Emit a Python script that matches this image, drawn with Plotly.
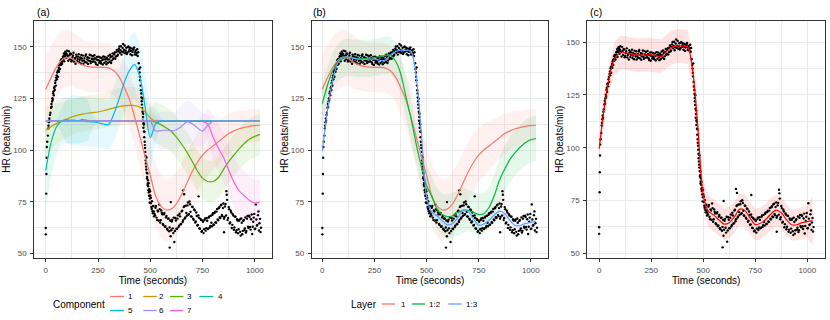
import plotly.graph_objects as go

# ---------------- data ----------------
GRID_T = [0, 25, 50, 75, 100, 125, 150, 175, 200, 225, 250, 275, 300, 325, 350, 375, 400, 425, 450, 475,
          500, 525, 550, 575, 600, 625, 650, 675, 700, 725, 750, 775, 800, 825, 850, 875, 900, 925, 950, 975,
          1000, 1025]

COMP1 = [129.4, 135, 140, 143.5, 144.7, 144.3, 142.5, 141.2, 140.5, 140.1, 140, 140, 139.8, 138.5, 135.5,
         130.5, 124.5, 116, 106.5, 97, 87.8, 78, 73, 71, 71.5, 74, 78.5, 84, 89.5, 94, 97.5, 100, 102, 104,
         106, 108, 109.3, 110.3, 111, 111.5, 111.8, 112]
HW1 = [17, 16, 15, 14, 14, 13, 13, 12, 12, 12, 12, 12, 12, 12, 12, 13, 13, 14, 14, 14, 15, 15, 15, 15, 15,
       15, 15, 15, 14, 14, 13, 13, 12, 11, 10, 10, 9, 9, 8, 8, 8, 8]

COMP2 = [109.6, 111.3, 112.8, 114, 115, 116, 116.8, 117.4, 117.8, 118.1, 118.4, 119, 119.7, 120.4, 121,
         121.4, 121.6, 121.5, 120.8, 118.5, 115.5, 114, 114, 114, 114, 114, 114, 114, 114, 114, 114, 114,
         114, 114, 114, 114, 114, 114, 114, 114, 114, 114]
HW2 = [12, 11, 10, 9, 9, 8.5, 8.5, 8.5, 8.5, 8.5, 8.5, 8.5, 8.5, 9, 9, 9, 9, 9, 9, 8, 6, 2, 0, 0, 0, 0, 0,
       0, 0, 0, 0, 0, 0, 0, 0, 0, 0, 0, 0, 0, 0, 0]

COMP3 = [114, 114, 114, 114, 114, 114, 114, 114, 114, 114, 114, 114, 114, 114, 114, 114, 114, 114, 114, 114,
         114, 113.5, 112.3, 110.8, 109.1, 106.2, 102.8, 99, 94.6, 90, 86.4, 84.8, 84.8, 86.6, 90.5, 94.4,
         97.6, 100.6, 103.2, 105.3, 106.6, 107.6]
HW3 = [0, 0, 0, 0, 0, 0, 0, 0, 0, 0, 0, 0, 0, 0, 0, 0, 0, 0, 0, 3, 7, 10, 10, 10, 10, 10, 10, 10, 10, 10,
       10, 10, 10, 10, 10, 10, 10, 10, 10, 10, 10, 10]

COMP4 = [90.2, 103.5, 111, 114, 114.6, 114.2, 114, 114.7, 114.3, 114, 114, 114, 114, 114, 114, 114, 114,
         114, 114, 114, 114, 114, 114, 114, 114, 114, 114, 114, 114, 114, 114, 114, 114, 114, 114, 114, 114,
         114, 114, 114, 114, 114]
HW4 = [20, 16, 13, 11, 11, 11, 11, 11, 10, 3, 0, 0, 0, 0, 0, 0, 0, 0, 0, 0, 0, 0, 0, 0, 0, 0, 0, 0, 0, 0,
       0, 0, 0, 0, 0, 0, 0, 0, 0, 0, 0, 0]

COMP5 = [114, 114, 114, 114, 114, 114.5, 114.2, 114, 113.8, 113.6, 113.2, 112.6, 112.3, 117.3, 124.5, 132.5,
         138.5, 141.5, 135.5, 121, 106, 112.5, 114, 114, 114, 114, 114, 114, 114, 114, 114, 114, 114, 114,
         114, 114, 114, 114, 114, 114, 114, 114]
HW5 = [0, 0, 0, 6, 11, 12, 12, 12, 12, 12, 12, 12, 12, 13, 14, 15, 16, 16, 16, 16, 15, 8, 2, 0, 0, 0, 0, 0,
       0, 0, 0, 0, 0, 0, 0, 0, 0, 0, 0, 0, 0, 0]

COMP6 = [114, 114, 114, 114, 114, 114, 114, 114, 114, 114, 114, 114, 114, 114, 114, 114, 114, 114, 114, 114,
         114, 109.2, 109.4, 109.6, 109.3, 109.8, 111.5, 113.6, 112.8, 110.8, 109.2, 112, 114, 114, 114, 114,
         114, 114, 114, 114, 114, 114]
HW6 = [0, 0, 0, 0, 0, 0, 0, 0, 0, 0, 0, 0, 0, 0, 0, 0, 0, 0, 0, 0, 4, 8, 9, 9, 9, 9, 10, 10.5, 10, 9, 9, 5,
       0, 0, 0, 0, 0, 0, 0, 0, 0, 0]

COMP7 = [114, 114, 114, 114, 114, 114, 114, 114, 114, 114, 114, 114, 114, 114, 114, 114, 114, 114, 114, 114,
         114, 114, 114, 114, 114, 114, 114, 114, 114, 114, 114, 112.5, 106.3, 101, 96.5, 90.3, 84.6, 80.3,
         77.8, 75.6, 74.3, 75]
HW7 = [0, 0, 0, 0, 0, 0, 0, 0, 0, 0, 0, 0, 0, 0, 0, 0, 0, 0, 0, 0, 0, 0, 0, 0, 0, 0, 0, 0, 0, 0, 3, 8, 11,
       12, 12, 12, 12, 12, 12, 12, 11, 11]

LAYER12 = [122.5, 131.5, 138.5, 142.5, 144.5, 145, 144.5, 144.2, 144.2, 144.4, 144.8, 145.2, 145.8, 145.8,
           143.2, 137.3, 126.3, 115.5, 103, 92, 82.8, 77.5, 71.5, 68.8, 67.8, 68.2, 69.8, 70.8, 70.8, 69.8,
           68.8, 69.2, 72.3, 78, 85.5, 90.8, 95.5, 98.8, 101.5, 103.7, 105, 105.6]
HW12 = [9, 9, 9, 9, 9, 9, 9, 9, 9, 9, 9, 9, 9, 9, 9, 10, 10, 10, 10, 10, 10, 10, 10, 10, 11, 11, 11, 11,
        10, 10, 10, 10, 10, 10, 11, 11, 11, 11, 11, 11, 11, 11]

FIT = [99.5, 119.4, 134, 142.4, 145, 145, 144.4, 144, 143.9, 144, 144, 143.5, 143.4, 145.8, 147.6, 148.3,
       148.2, 147.8, 136, 108.5, 77.6, 69.8, 68.2, 65.8, 63.8, 64.5, 67.2, 70.9, 70.3, 66.6, 63.6, 64.2, 66,
       68.6, 70.4, 69.2, 65.9, 63.5, 63.5, 64.5, 65, 65.5]
HW_FIT = [5, 6, 7, 8, 8, 8, 8, 8, 8, 8, 8, 8, 8, 8, 8, 8, 8, 8, 8, 8, 7, 7.5, 7.5, 7.5, 7.5, 7.5, 7.5, 7.5,
          7.5, 7.5, 7.5, 7.5, 7.5, 7.5, 7.5, 7.5, 7.5, 7.5, 7.5, 7.5, 7.5, 12]
HW13 = [5, 3, 2, 2, 2, 2, 2, 2, 2, 2, 2, 2, 2, 2, 2, 2, 2, 2, 2, 2, 2, 2, 2, 2, 2, 2, 2, 2, 2, 2, 2, 2, 2,
        2, 2, 2, 2, 2, 2, 2, 2, 8]

# observed heart rate (seconds, beats/min)
HR_T = [0, 0, 2, 3, 4, 5, 7, 10, 12, 15, 18, 20, 25, 28, 30, 35, 38, 40, 45, 48, 50, 55, 58, 60, 65, 68, 70,
        75, 78, 80, 85, 88, 90, 95, 98, 100,
        105, 110, 115, 120, 125, 130, 135, 140, 145, 150, 155, 160, 165, 170, 175, 180, 185, 190, 195, 200,
        205, 210, 215, 220, 225, 230, 235, 240, 245, 250, 255, 260, 265, 270, 275, 280, 285, 290, 295, 300,
        305, 310, 315, 320, 325, 330, 335, 340, 345, 350, 355, 360, 365, 370, 375, 380, 385, 390, 395, 400,
        405, 410, 415, 420, 425, 430, 435, 440,
        445, 450, 452, 455, 458, 460, 463, 465, 468, 470, 473, 475, 478, 480, 483, 485, 488, 490, 493, 495,
        498, 500, 505, 510, 515, 520,
        525, 530, 535, 540, 545, 550, 555, 560, 565, 570, 575, 580, 585, 590, 593, 595, 598, 600, 605, 610,
        615, 620, 625, 630, 635, 640, 645, 650, 655, 657, 660, 662, 665, 670, 675, 680, 685, 690, 695, 700,
        705, 710, 715, 720, 725, 730, 731, 735, 740, 745, 750, 755, 760, 765, 770, 775, 780, 785, 790, 795,
        800, 805, 810, 815, 820, 825, 830, 835, 840, 845, 850, 853, 855, 860, 864, 866, 870, 875, 880, 885,
        890, 895, 900, 905, 910, 915, 920, 925, 930, 935, 940, 945, 950, 955, 960, 965, 970, 975, 980, 985,
        990, 995, 1000, 1005, 1010, 1015, 1020, 1025, 1030]
HR_V = [59.2, 62.3, 78.9, 88.4, 96.3, 101.5, 104, 107, 110.5, 113.5, 114.2, 117, 120.5, 121, 123.5, 127.5,
        126.5, 130, 132.5, 131.2, 135, 137.5, 135.5, 138.6, 141, 139.2, 142, 144, 141.8, 143.8, 145.5, 143,
        146.2, 147, 144.5, 146.5,
        145.5, 147.8, 144, 146.5, 143.5, 145.8, 142.8, 144.6, 146.2, 143, 145.2, 142.5, 144.8, 146, 143.2,
        141.8, 144.5, 145.6, 142.4, 144.9, 143.3, 146.1, 142.1, 144.2, 145.4, 142.9, 144.4, 141.6, 145.1,
        143.6, 142.3, 144.8, 141.9, 143.5, 145.3, 142.2, 144, 141.5, 143.8, 145.6, 142.7, 144.9, 143.3,
        146.8, 144.5, 147.2, 145.3, 148.5, 146.1, 149, 147.1, 150.2, 147.6, 151.3, 148.4, 146.9, 149.5,
        147.2, 150.1, 148.6, 146.4, 149.2, 147.5, 148.9, 146.3, 148.2, 147, 145.5,
        142, 135.5, 140, 129, 125.5, 122, 118.5, 116, 113, 109, 104, 101, 95, 92, 89, 87, 84, 82.5, 79.5, 81,
        76.5, 78, 72.5, 70.5, 73, 69.2,
        72.1, 67.3, 70.8, 65.9, 71.4, 66.1, 69.7, 64.2, 68.9, 62.8, 67.4, 61.9, 66.8, 60.7, 52.8, 65.9, 74.8,
        61.2, 66.3, 59.8, 55.5, 67.1, 61.9, 66.8, 62.7, 69.2, 64.1, 70.3, 65.2, 80.5, 72.4, 78.6, 66.9, 73.1,
        68.2, 74.6, 69, 73.8, 67.9, 72.6, 66.8, 71.2, 64.9, 69.8, 63.5, 68.4, 77.6, 62.1, 66.7, 60.4, 65.9,
        59.8, 66.2, 61, 67.1, 61.8, 67.3, 62.5, 68.2, 63.1, 69.4, 63.9, 70.2, 64.8, 71.5, 66, 72.3, 67.1, 73.5,
        68, 74.1, 60.2, 67.6, 73.9, 80.1, 78.4, 66.1, 72.4, 64.5, 70.6, 62.3, 68.9, 61.4, 67.8, 60.2, 66.5,
        59.7, 65.8, 60.4, 66.9, 59.3, 65.7, 61.2, 67.4, 60.9, 68.1, 62.3, 67.6, 61.5, 68.8, 62.9, 67.3, 61.8,
        73.7, 63.4, 68.5, 61.1, 66.7, 62.4]

HR_T2 = [13, 17, 22, 27, 32, 33, 37, 42, 43, 47, 52, 53, 57, 62, 63, 67, 72, 73, 77, 82, 83, 87, 92, 93, 97,
         102,
         107.5, 112.5, 117.5, 122.5, 127.5, 132.5, 137.5, 142.5, 147.5, 152.5,
         157.5, 162.5, 167.5, 172.5, 177.5, 182.5, 187.5, 192.5, 197.5, 202.5,
         207.5, 212.5, 217.5, 222.5, 227.5, 232.5, 237.5, 242.5, 247.5, 252.5,
         257.5, 262.5, 267.5, 272.5, 277.5, 282.5, 287.5, 292.5, 297.5, 302.5,
         307.5, 312.5, 317.5, 322.5, 327.5, 332.5, 337.5, 342.5, 347.5, 352.5,
         357.5, 362.5, 367.5, 372.5, 377.5, 382.5, 387.5, 392.5, 397.5, 402.5,
         407.5, 412.5, 417.5, 422.5, 427.5, 432.5, 437.5,
         442, 447, 449, 451, 454, 457, 459, 461, 462, 464, 466, 467, 469, 471, 472, 474, 476, 477, 479, 481,
         482, 484, 486, 487, 489, 491, 492, 494, 496, 497, 499, 502, 503, 507, 508, 512, 513, 517, 518,
         522.5, 527.5, 532.5, 537.5, 542.5, 547.5, 552.5, 557.5, 562.5, 567.5,
         572.5, 577.5, 582.5, 587.5, 592.5, 597.5, 602.5, 607.5, 612.5, 617.5,
         622.5, 627.5, 632.5, 637.5, 642.5, 647.5, 652.5, 657.5, 662.5, 667.5,
         672.5, 677.5, 682.5, 687.5, 692.5, 697.5, 702.5, 707.5, 712.5, 717.5,
         722.5, 727.5, 732.5, 737.5, 742.5, 747.5, 752.5, 757.5, 762.5, 767.5,
         772.5, 777.5, 782.5, 787.5, 792.5, 797.5, 802.5, 807.5, 812.5, 817.5,
         822.5, 827.5, 832.5, 837.5, 842.5, 847.5, 852.5, 857.5, 862.5, 867.5,
         872.5, 877.5, 882.5, 887.5, 892.5, 897.5, 902.5, 907.5, 912.5, 917.5,
         922.5, 927.5, 932.5, 937.5, 942.5, 947.5, 952.5, 957.5, 962.5, 967.5,
         972.5, 977.5, 982.5, 987.5, 992.5, 997.5, 1002.5, 1007.5, 1012.5, 1017.5,
         1022.5, 1027.5]
HR_V2 = [111.8, 115.3, 118.1, 122.3, 125.1, 124.2, 128.4, 130.6, 129.1, 133.6, 136.1, 134.3, 138.2, 139.8,
         137.9, 141.6, 143.4, 141.2, 142.7, 145.1, 143.9, 146.8, 145.3, 147.6, 146.1, 148.1,
         143.2, 145.9, 146.8, 142.9, 144.9, 147.1, 143.9, 141.8, 145.3, 144.1,
         146.4, 143.7, 141.9, 144.3, 145.7, 143.4, 142.6, 146.3, 143.9, 141.7,
         144.6, 143.1, 145.8, 142.7, 143.9, 145.9, 142.4, 143.8, 141.2, 145.2,
         143.2, 142.6, 144.6, 141.4, 143.9, 145.1, 142.8, 144.7, 142.2, 143.9,
         146.1, 142.1, 145.4, 144.1, 146.3, 144.2, 147.4, 145.6, 147.8, 150.1,
         148.3, 146.2, 149.4, 147.3, 150.6, 148.1, 146.5, 149.8, 147.7, 149.5,
         147.9, 145.9, 148.6, 149.7, 147.4, 146.1, 148.8,
         147.3, 139.2, 137.5, 133.8, 131.2, 127.4, 123.6, 120.3, 124.9, 114.2, 117.6, 110.8, 112.4, 106.2,
         108.8, 102.4, 99.1, 97.2, 93.5, 90.6, 96.4, 86.2, 88.7, 83.1, 85.4, 80.6, 83.9, 77.9, 79.8, 74.6,
         80.1, 74.3, 76.9, 71.6, 75.2, 69.4, 72.8, 70.3, 67.9,
         68.4, 72.9, 66.1, 70.3, 73.6, 64.9, 70.8, 68.9, 63.7, 69.5,
         63.2, 68.1, 61.4, 66.9, 62.5, 58.3, 65.4, 62.1, 67.3, 60.8,
         65.9, 61.8, 68.4, 63.4, 67.9, 64.2, 70.6, 66.1, 72.8, 67.4,
         69.5, 73.2, 68.7, 75.1, 70.1, 67.8, 72.4, 66.3, 70.9, 65.4,
         68.1, 63.7, 67.2, 61.9, 66.2, 60.8, 65.3, 61.7, 66.9, 62.2,
         65.8, 62.1, 67.9, 63.3, 64.8, 68.7, 63.9, 69.5, 65.1, 70.2,
         66.4, 71.8, 67.5, 73.2, 68.6, 71.9, 66.8, 72.7, 68.3, 75.9,
         67.1, 71.4, 64.9, 69.8, 63.8, 68.3, 62.6, 67.7, 61.2, 65.9,
         61.7, 66.4, 58.6, 64.8, 60.9, 66.2, 62.1, 60.1, 66.8, 62.9,
         68.2, 62.8, 66.5, 59.4, 65.3, 69.1, 61.9, 66.4, 63.7, 70.3,
         64.6, 60.3]

COMP_LABELS = ["1", "2", "3", "4", "5", "6", "7"]
COMP_COLORS = ["#F8766D", "#C49A00", "#53B400", "#00C094", "#00B6EB", "#A58AFF", "#FB61D7"]
LAYER_LABELS = ["1", "1:2", "1:3"]
LAYER_COLORS = ["#F8766D", "#00BA38", "#619CFF"]
FIT_COLOR = "#FF0000"

X_TICKS = [0, 250, 500, 750, 1000]
Y_TICKS = [50, 75, 100, 125, 150]

FONT = "Liberation Sans, Arial, Helvetica, sans-serif"

W, H = 830, 320


def PX(x):
    return x / W


def PY(y):
    return 1 - y / H


def rgba(hex_color, a):
    h = hex_color.lstrip("#")
    r, g, b = int(h[0:2], 16), int(h[2:4], 16), int(h[4:6], 16)
    return f"rgba({r},{g},{b},{a})"


fig = go.Figure()
ALL_T = HR_T + HR_T2
ALL_V = HR_V + HR_V2


def add_band(center, hw, color, alpha, xa, ya):
    up = [c + h for c, h in zip(center, hw)]
    lo = [c - h for c, h in zip(center, hw)]
    fig.add_trace(go.Scatter(x=GRID_T + GRID_T[::-1], y=up + lo[::-1], fill="toself",
                             fillcolor=rgba(color, alpha), line=dict(width=0), mode="lines",
                             hoverinfo="skip", showlegend=False, xaxis=xa, yaxis=ya))


def add_curve(center, color, xa, ya, name):
    fig.add_trace(go.Scatter(x=GRID_T, y=center, mode="lines", name=name,
                             line=dict(color=color, width=1.2, shape="spline", smoothing=0.8),
                             showlegend=False, xaxis=xa, yaxis=ya))


def add_points(xa, ya):
    fig.add_trace(go.Scatter(x=ALL_T, y=ALL_V, mode="markers", marker=dict(color="black", size=2.4),
                             showlegend=False, xaxis=xa, yaxis=ya, name="HR"))


# panel (a)
comps = [COMP1, COMP2, COMP3, COMP4, COMP5, COMP6, COMP7]
hws = [HW1, HW2, HW3, HW4, HW5, HW6, HW7]
for c, h, col in zip(comps, hws, COMP_COLORS):
    add_band(c, h, col, 0.1, "x", "y")
add_points("x", "y")
for i in [0, 1, 2, 3, 6, 4, 5]:
    add_curve(comps[i], COMP_COLORS[i], "x", "y", "Component " + COMP_LABELS[i])

# panel (b)
layers = [COMP1, LAYER12, FIT]
lhws = [HW1, HW12, HW13]
for c, h, col in zip(layers, lhws, LAYER_COLORS):
    add_band(c, h, col, 0.1, "x2", "y2")
add_points("x2", "y2")
for c, col, lab in zip(layers, LAYER_COLORS, LAYER_LABELS):
    add_curve(c, col, "x2", "y2", "Layer " + lab)

# panel (c)
add_band(FIT, HW_FIT, FIT_COLOR, 0.11, "x3", "y3")
add_points("x3", "y3")
add_curve(FIT, FIT_COLOR, "x3", "y3", "fit")


def xaxis(x0, x1, anchor, rng):
    return dict(domain=[PX(x0), PX(x1)], anchor=anchor, range=rng, tickmode="array", tickvals=X_TICKS,
                showgrid=True, gridcolor="#EBEBEB", gridwidth=1,
                minor=dict(showgrid=True, gridcolor="#EBEBEB", gridwidth=0.6, tick0=125, dtick=250),
                zeroline=False, showline=True, linecolor="#333333", linewidth=1, mirror=True,
                ticks="outside", ticklen=3, tickcolor="#333333", tickwidth=1, ticklabelstandoff=2,
                tickfont=dict(size=8, color="#4D4D4D", family=FONT),
                title=dict(text="Time (seconds)", font=dict(size=10, color="black", family=FONT), standoff=1))


def yaxis(anchor, rng):
    return dict(domain=[PY(257.7), PY(20.7)], anchor=anchor, range=rng, tickmode="array", tickvals=Y_TICKS,
                showgrid=True, gridcolor="#EBEBEB", gridwidth=1,
                minor=dict(showgrid=True, gridcolor="#EBEBEB", gridwidth=0.6, tick0=62.5, dtick=25),
                zeroline=False, showline=True, linecolor="#333333", linewidth=1, mirror=True,
                ticks="outside", ticklen=3, tickcolor="#333333", tickwidth=1, ticklabelstandoff=2,
                tickfont=dict(size=8, color="#4D4D4D", family=FONT),
                title=dict(text="HR (beats/min)", font=dict(size=10, color="black", family=FONT), standoff=0))


annotations = []
shapes = []
for txt, xp in [("(a)", 35), ("(b)", 311), ("(c)", 588)]:
    annotations.append(dict(text=txt, x=PX(xp), y=PY(11.7), xref="paper", yref="paper",
                            xanchor="left", yanchor="middle", showarrow=False,
                            font=dict(size=10.5, color="black", family=FONT)))

# legend (a)
annotations.append(dict(text="Component", x=PX(78.8), y=PY(304), xref="paper", yref="paper",
                        xanchor="center", yanchor="middle", showarrow=False,
                        font=dict(size=10, color="black", family=FONT)))
key_x = [(110, 124, 130.7), (143.3, 156.7, 161), (170, 183.3, 189), (199.3, 213.3, 220)]
for i, (lab, col) in enumerate(zip(COMP_LABELS, COMP_COLORS)):
    row = i // 4
    x0, x1, xl = key_x[i % 4]
    yy = PY(296.5 if row == 0 else 310.5)
    shapes.append(dict(type="line", xref="paper", yref="paper", x0=PX(x0), x1=PX(x1), y0=yy, y1=yy,
                       line=dict(color=col, width=1.3)))
    annotations.append(dict(text=lab, x=PX(xl), y=yy, xref="paper", yref="paper", xanchor="center",
                            yanchor="middle", showarrow=False, font=dict(size=8, color="black", family=FONT)))

# legend (b)
annotations.append(dict(text="Layer", x=PX(364), y=PY(304), xref="paper", yref="paper",
                        xanchor="center", yanchor="middle", showarrow=False,
                        font=dict(size=10, color="black", family=FONT)))
lkey = [(381.7, 395, 403.3), (411.7, 425, 435), (448.3, 461.7, 472.3)]
for (x0, x1, xl), lab, col in zip(lkey, LAYER_LABELS, LAYER_COLORS):
    yy = PY(304)
    shapes.append(dict(type="line", xref="paper", yref="paper", x0=PX(x0), x1=PX(x1), y0=yy, y1=yy,
                       line=dict(color=col, width=1.3)))
    annotations.append(dict(text=lab, x=PX(xl), y=yy, xref="paper", yref="paper", xanchor="center",
                            yanchor="middle", showarrow=False, font=dict(size=8, color="black", family=FONT)))

fig.update_layout(
    width=W, height=H, margin=dict(l=0, r=0, t=0, b=0),
    paper_bgcolor="white", plot_bgcolor="white", showlegend=False,
    font=dict(family=FONT),
    xaxis=xaxis(34.3, 271.5, "y", [-55, 1080]),
    yaxis=yaxis("x", [47.9, 162.6]),
    xaxis2=xaxis(311.7, 548.3, "y2", [-51, 1084]),
    yaxis2=yaxis("x2", [47.9, 162.6]),
    xaxis3=xaxis(587.3, 825, "y3", [-57, 1085]),
    yaxis3=yaxis("x3", [47.9, 160.2]),
    annotations=annotations, shapes=shapes,
)

fig.write_html("out.html", config={"displayModeBar": False},
               post_script="document.body.style.margin='0';document.body.style.overflow='hidden';")
